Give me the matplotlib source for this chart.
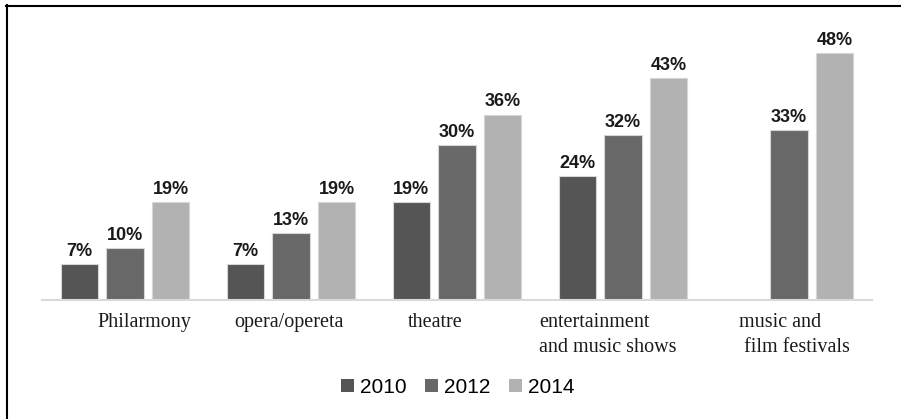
import numpy as np
import matplotlib.pyplot as plt
from matplotlib.patches import Patch
from matplotlib.lines import Line2D

# datos
categorias = ["Philarmony", "opera/opereta", "theatre",
              "entertainment\nand music shows", "music and\n film festivals"]
anios = ["2010", "2012", "2014"]
v2010 = [7, 7, 19, 24, np.nan]
v2012 = [10, 13, 30, 32, 33]
v2014 = [19, 19, 36, 43, 48]

colores = ["#555555", "#686868", "#b2b2b2"]

# posiciones de las etiquetas de categoria (en unidades de x) y alineacion
pos_etiquetas = [0.117, 0.985, 1.867, 2.494, 3.699]
alin_etiquetas = ["center", "center", "center", "left", "left"]

fig = plt.figure(figsize=(9.01, 4.19), dpi=100)
ax = fig.add_axes([42 / 901, 1 - 300 / 419, 830 / 901, 270 / 419])

x = np.arange(len(categorias))
ancho = 0.223
paso = 0.277
for i, (serie, color) in enumerate(zip([v2010, v2012, v2014], colores)):
    xs = x + (i - 1) * paso
    ax.bar(xs, serie, width=ancho, color=color,
           edgecolor="#d6d6d6", linewidth=0.8, zorder=2)
    for xi, v in zip(xs, serie):
        if np.isnan(v):
            continue
        ax.annotate(f"{v:.0f}%", xy=(xi, v), xytext=(0, 3),
                    textcoords="offset points", ha="center", va="bottom",
                    fontsize=13, fontweight="bold", family="Liberation Sans",
                    color="#1a1a1a")

ax.set_xlim(-0.5, len(categorias) - 0.5)
ax.set_ylim(0, 52.4)
for s in ["top", "right", "left"]:
    ax.spines[s].set_visible(False)
ax.spines["bottom"].set_color("#d9d9d9")
ax.spines["bottom"].set_linewidth(1.5)
ax.set_yticks([])
ax.set_xticks([])

for cat, xp, al in zip(categorias, pos_etiquetas, alin_etiquetas):
    ax.annotate(cat, xy=(xp, 0), xytext=(0, -9), textcoords="offset points",
                ha=al, va="top", multialignment="left", linespacing=1.45,
                fontsize=14.5, family="Liberation Serif", color="#1a1a1a",
                annotation_clip=False)

handles = [Patch(facecolor=c, edgecolor="none") for c in colores]
fig.legend(handles, anios, loc="center", bbox_to_anchor=(458 / 901, 1 - 387 / 419),
           ncol=3, frameon=False, handlelength=0.6, handleheight=0.6,
           handletextpad=0.3, columnspacing=0.9,
           prop={"family": "Liberation Sans", "size": 15})

# marco
fig.add_artist(Line2D([7 / 901, 7 / 901], [0, 1 - 5 / 419],
                      transform=fig.transFigure, color="black", linewidth=1.5))
fig.add_artist(Line2D([6 / 901, 1], [1 - 6 / 419, 1 - 6 / 419],
                      transform=fig.transFigure, color="black", linewidth=1.5))

fig.savefig("out.png", dpi=100)
